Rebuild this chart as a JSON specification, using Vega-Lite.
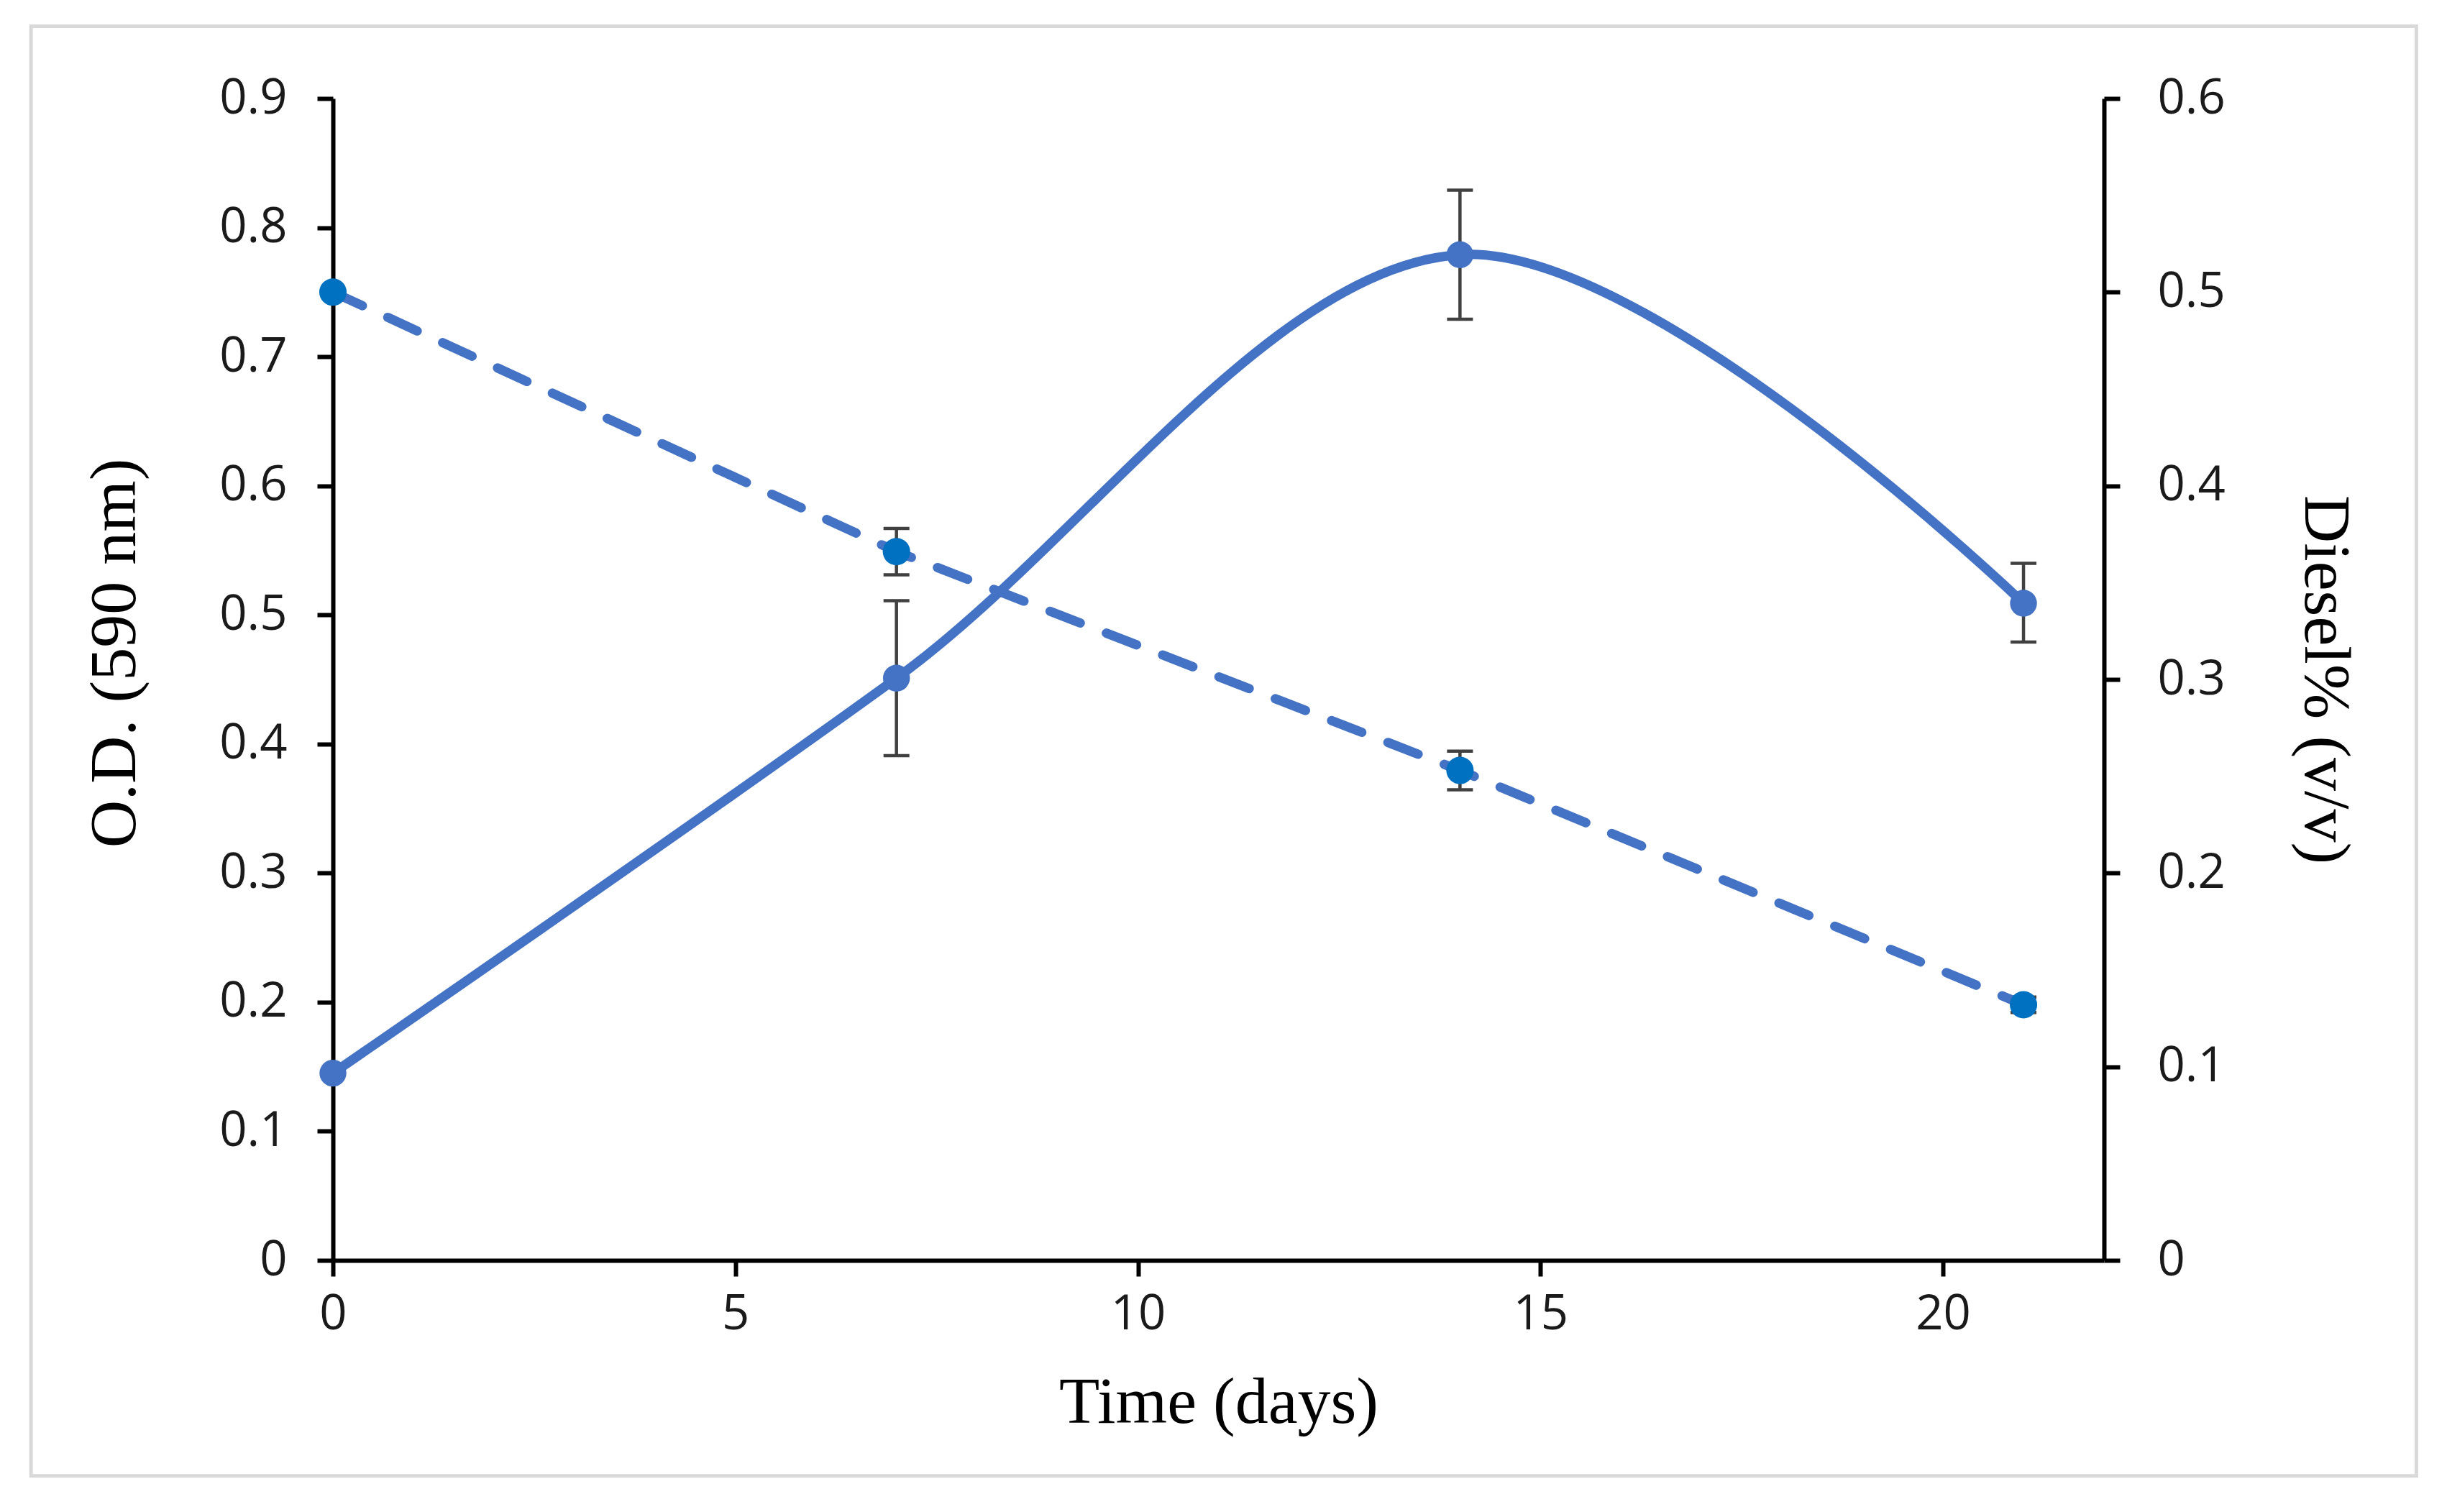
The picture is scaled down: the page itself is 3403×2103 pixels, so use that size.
{
  "$schema": "https://vega.github.io/schema/vega-lite/v6.json",
  "width": 2463,
  "height": 1616,
  "autosize": {"type": "none"},
  "padding": {"left": 463, "top": 137, "right": 477, "bottom": 350},
  "background": "white",
  "datasets": {
    "od": [
      {"day": 0, "od": 0.145, "lo": null, "hi": null},
      {"day": 7, "od": 0.451, "lo": 0.391, "hi": 0.511},
      {"day": 14, "od": 0.779, "lo": 0.729, "hi": 0.829},
      {"day": 21, "od": 0.509, "lo": 0.479, "hi": 0.540}
    ],
    "diesel": [
      {"day": 0, "diesel": 0.5, "lo": null, "hi": null},
      {"day": 7, "diesel": 0.366, "lo": 0.354, "hi": 0.378},
      {"day": 14, "diesel": 0.253, "lo": 0.243, "hi": 0.263},
      {"day": 21, "diesel": 0.132, "lo": 0.128, "hi": 0.136}
    ]
  },
  "layer": [
    {
      "data": {"name": "od"},
      "layer": [
        {
          "data": {"values": [{}]},
          "mark": {"type": "rect", "fill": null, "stroke": "#d9d9d9", "strokeWidth": 5},
          "encoding": {
            "x": {"datum": -3.75, "type": "quantitative", "scale": {"domain": [0, 22], "nice": false, "zero": false}},
            "x2": {"datum": 25.88},
            "y": {"datum": -0.167, "type": "quantitative", "scale": {"domain": [0, 0.9], "nice": false, "zero": false}},
            "y2": {"datum": 0.956}
          }
        },
        {
          "transform": [{"filter": "datum.lo != null"}],
          "mark": {"type": "rule", "color": "#404040", "strokeWidth": 4.5},
          "encoding": {
            "x": {"field": "day", "type": "quantitative"},
            "y": {"field": "lo", "type": "quantitative"},
            "y2": {"field": "hi"}
          }
        },
        {
          "transform": [{"filter": "datum.lo != null"}],
          "mark": {"type": "tick", "orient": "horizontal", "color": "#404040", "size": 36, "thickness": 4.5, "opacity": 1},
          "encoding": {
            "x": {"field": "day", "type": "quantitative"},
            "y": {"field": "lo", "type": "quantitative"}
          }
        },
        {
          "transform": [{"filter": "datum.hi != null"}],
          "mark": {"type": "tick", "orient": "horizontal", "color": "#404040", "size": 36, "thickness": 4.5, "opacity": 1},
          "encoding": {
            "x": {"field": "day", "type": "quantitative"},
            "y": {"field": "hi", "type": "quantitative"}
          }
        },
        {
          "mark": {"type": "line", "color": "#4472C4", "strokeWidth": 13, "interpolate": "cardinal", "tension": 0},
          "encoding": {
            "x": {
              "field": "day", "type": "quantitative",
              "scale": {"domain": [0, 22], "nice": false, "zero": false},
              "axis": {
                "values": [0, 5, 10, 15, 20],
                "format": "d",
                "labelFlush": false,
                "title": "Time (days)",
                "labelPadding": 20,
                "titlePadding": 44
              }
            },
            "y": {
              "field": "od", "type": "quantitative",
              "scale": {"domain": [0, 0.9], "nice": false, "zero": false},
              "axis": {
                "orient": "left",
                "values": [0, 0.1, 0.2, 0.3, 0.4, 0.5, 0.6, 0.7, 0.8, 0.9],
                "format": ".1~f",
                "title": "O.D. (590 nm)",
                "titleY": 771,
                "labelPadding": 42,
                "titlePadding": 98
              }
            }
          }
        },
        {
          "mark": {"type": "point", "filled": true, "shape": "circle", "color": "#4472C4", "size": 1400, "opacity": 1},
          "encoding": {
            "x": {"field": "day", "type": "quantitative"},
            "y": {"field": "od", "type": "quantitative"}
          }
        }
      ]
    },
    {
      "data": {"name": "diesel"},
      "layer": [
        {
          "transform": [{"filter": "datum.lo != null"}],
          "mark": {"type": "rule", "color": "#404040", "strokeWidth": 4.5},
          "encoding": {
            "x": {"field": "day", "type": "quantitative"},
            "y": {"field": "lo", "type": "quantitative"},
            "y2": {"field": "hi"}
          }
        },
        {
          "transform": [{"filter": "datum.lo != null"}],
          "mark": {"type": "tick", "orient": "horizontal", "color": "#404040", "size": 36, "thickness": 4.5, "opacity": 1},
          "encoding": {
            "x": {"field": "day", "type": "quantitative"},
            "y": {"field": "lo", "type": "quantitative"}
          }
        },
        {
          "transform": [{"filter": "datum.hi != null"}],
          "mark": {"type": "tick", "orient": "horizontal", "color": "#404040", "size": 36, "thickness": 4.5, "opacity": 1},
          "encoding": {
            "x": {"field": "day", "type": "quantitative"},
            "y": {"field": "hi", "type": "quantitative"}
          }
        },
        {
          "mark": {"type": "line", "color": "#4472C4", "strokeWidth": 13, "strokeDash": [45, 39], "strokeCap": "round"},
          "encoding": {
            "x": {"field": "day", "type": "quantitative"},
            "y": {
              "field": "diesel", "type": "quantitative",
              "scale": {"domain": [0, 0.6], "nice": false, "zero": false},
              "axis": {
                "orient": "right",
                "values": [0, 0.1, 0.2, 0.3, 0.4, 0.5, 0.6],
                "format": ".1~f",
                "title": "Diesel% (v/v)",
                "labelPadding": 52,
                "titlePadding": 92
              }
            }
          }
        },
        {
          "mark": {"type": "point", "filled": true, "shape": "circle", "color": "#0070C0", "size": 1450, "opacity": 1},
          "encoding": {
            "x": {"field": "day", "type": "quantitative"},
            "y": {"field": "diesel", "type": "quantitative"}
          }
        }
      ]
    }
  ],
  "resolve": {"scale": {"y": "independent"}, "axis": {"y": "independent"}},
  "config": {
    "view": {"stroke": null},
    "axis": {
      "grid": false,
      "domainColor": "#000000",
      "domainWidth": 6,
      "tickColor": "#000000",
      "tickWidth": 6,
      "tickSize": 22,
      "labelFont": "Open Sans",
      "labelFontSize": 67,
      "labelColor": "#1a1a1a",
      "titleFont": "Liberation Serif",
      "titleFontSize": 92,
      "titleFontWeight": "normal",
      "titleColor": "#000000"
    }
  }
}
